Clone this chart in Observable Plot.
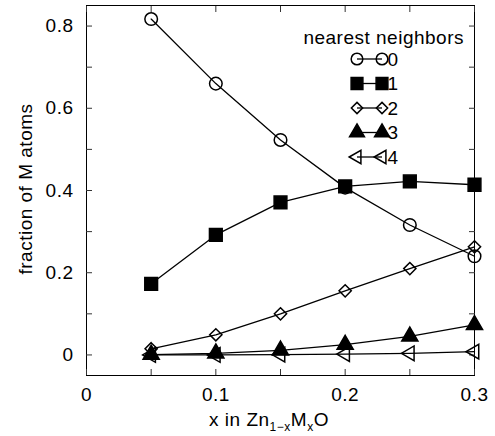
<!DOCTYPE html>
<html>
<head>
<meta charset="utf-8">
<script src="https://cdn.jsdelivr.net/npm/d3@7"></script>
<script src="https://cdn.jsdelivr.net/npm/@observablehq/plot@0.6"></script>
<style>
  html, body { margin: 0; padding: 0; background: white; }
  #chart svg { display: block; }
</style>
</head>
<body>
<div id="chart"></div>
<script>
// ---- data ----
const xValues = [0.05, 0.1, 0.15, 0.2, 0.25, 0.3];
const nn0 = [0.817, 0.66, 0.523, 0.407, 0.316, 0.24];
const nn1 = [0.173, 0.292, 0.371, 0.41, 0.422, 0.414];
const nn2 = [0.015, 0.049, 0.1, 0.156, 0.21, 0.263];
const nn3 = [0.001, 0.004, 0.011, 0.025, 0.045, 0.073];
const nn4 = [0.0, 0.0, 0.001, 0.002, 0.004, 0.008];
const seriesKeys = ["0", "1", "2", "3", "4"];
const xTicks = [0, 0.1, 0.2, 0.3];
const xMinorTicks = [0, 0.05, 0.1, 0.15, 0.2, 0.25, 0.3];
const yTicks = [0, 0.2, 0.4, 0.6, 0.8];
const yMinorTicks = [0, 0.1, 0.2, 0.3, 0.4, 0.5, 0.6, 0.7, 0.8];
const legendTitle = "nearest neighbors";
const yTitle = "fraction of M atoms";

// ---- styles per series ----
const styles = [
  {symbol: "circle", r: 6.3, fill: "none", rotate: 0},
  {symbol: "square", r: 7.2, fill: "black", rotate: 0},
  {symbol: "diamond2", r: 5.5, fill: "none", rotate: 0},
  {symbol: "triangle", r: 6.0, fill: "black", rotate: 0},
  {symbol: "triangle2", r: 7.0, fill: "none", rotate: -90}
];

const allSeries = [nn0, nn1, nn2, nn3, nn4];
const tables = allSeries.map((vals, i) => xValues.map((x, j) => ({x, y: vals[j], k: seriesKeys[i]})));
const rows = tables.flat();

const font = "'Liberation Sans', Arial, Helvetica, sans-serif";
const fs = 19;
const ls = "0.5px";

const marks = [
  Plot.frame({stroke: "black", strokeWidth: 1}),
  Plot.axisX(xMinorTicks, {anchor: "bottom", tickSize: -6, tickFormat: () => "", label: null, stroke: "#333"}),
  Plot.axisX(xMinorTicks, {anchor: "top", tickSize: -6, tickFormat: () => "", label: null, stroke: "#333"}),
  Plot.axisY(yMinorTicks, {anchor: "left", tickSize: -6, tickFormat: () => "", label: null, stroke: "#333"}),
  Plot.axisY(yMinorTicks, {anchor: "right", tickSize: -6, tickFormat: () => "", label: null, stroke: "#333"}),
  Plot.axisX(xTicks, {anchor: "bottom", tickSize: 0, tickPadding: 12, tickFormat: d => `${d}`, label: null, fill: "black"}),
  Plot.axisY(yTicks, {anchor: "left", tickSize: 0, tickPadding: 13, tickFormat: d => `${d}`, label: null, fill: "black"}),
  Plot.line(rows, {x: "x", y: "y", z: "k", stroke: "black", strokeWidth: 1.3})
];
tables.forEach((t, i) => {
  const s = styles[i];
  marks.push(Plot.dot(t, {x: "x", y: "y", symbol: () => s.symbol, r: s.r, fill: s.fill, stroke: "black", strokeWidth: 1.5, rotate: s.rotate}));
});

const plot = Plot.plot({
  width: 495,
  height: 436,
  marginLeft: 86,
  marginRight: 21,
  marginTop: 5,
  marginBottom: 61,
  style: {fontFamily: font, fontSize: fs + "px", background: "white", color: "black", letterSpacing: ls},
  x: {domain: [0, 0.3]},
  y: {domain: [-0.05, 0.85]},
  symbol: {domain: styles.map(s => s.symbol), range: styles.map(s => s.symbol)},
  marks
});
document.getElementById("chart").appendChild(plot);

// ---- titles and legend drawn on the same SVG ----
const svg = d3.select(plot);

// y title
svg.append("text")
  .attr("transform", "translate(32,189) rotate(-90)")
  .attr("text-anchor", "middle")
  .attr("font-family", font).attr("font-size", fs).attr("fill", "black")
  .attr("letter-spacing", ls)
  .text(yTitle);

// x title with subscripts
const xt = svg.append("text")
  .attr("x", 269).attr("y", 426)
  .attr("text-anchor", "middle")
  .attr("font-family", font).attr("font-size", fs).attr("fill", "black")
  .attr("letter-spacing", ls);
xt.append("tspan").text("x in Zn");
xt.append("tspan").attr("font-size", 12).attr("dy", 5).text("1\u2212x");
xt.append("tspan").attr("dy", -5).text("M");
xt.append("tspan").attr("font-size", 12).attr("dy", 5).text("x");
xt.append("tspan").attr("dy", -5).text("O");

// legend
const lg = svg.append("g").attr("font-family", font).attr("font-size", fs).attr("fill", "black").attr("letter-spacing", ls);
lg.append("text").attr("x", 464).attr("y", 44).attr("text-anchor", "end").text(legendTitle);
const rowY = [59, 83.5, 108, 132.5, 157];
const symMap = {circle: d3.symbolCircle, square: d3.symbolSquare, diamond2: d3.symbolDiamond2, triangle: d3.symbolTriangle, triangle2: d3.symbolTriangle2};
seriesKeys.forEach((k, i) => {
  const s = styles[i];
  const y = rowY[i];
  lg.append("line").attr("x1", 357).attr("x2", 382).attr("y1", y).attr("y2", y).attr("stroke", "black").attr("stroke-width", 1.3);
  const path = d3.symbol(symMap[s.symbol], Math.PI * s.r * s.r * 0.85)();
  [357, 382].forEach(x => {
    lg.append("path").attr("d", path)
      .attr("transform", `translate(${x},${y}) rotate(${s.rotate})`)
      .attr("fill", s.fill).attr("stroke", "black").attr("stroke-width", 1.5);
  });
  lg.append("text").attr("x", 393).attr("y", y).attr("dy", "0.36em").text(k);
});
</script>
</body>
</html>
